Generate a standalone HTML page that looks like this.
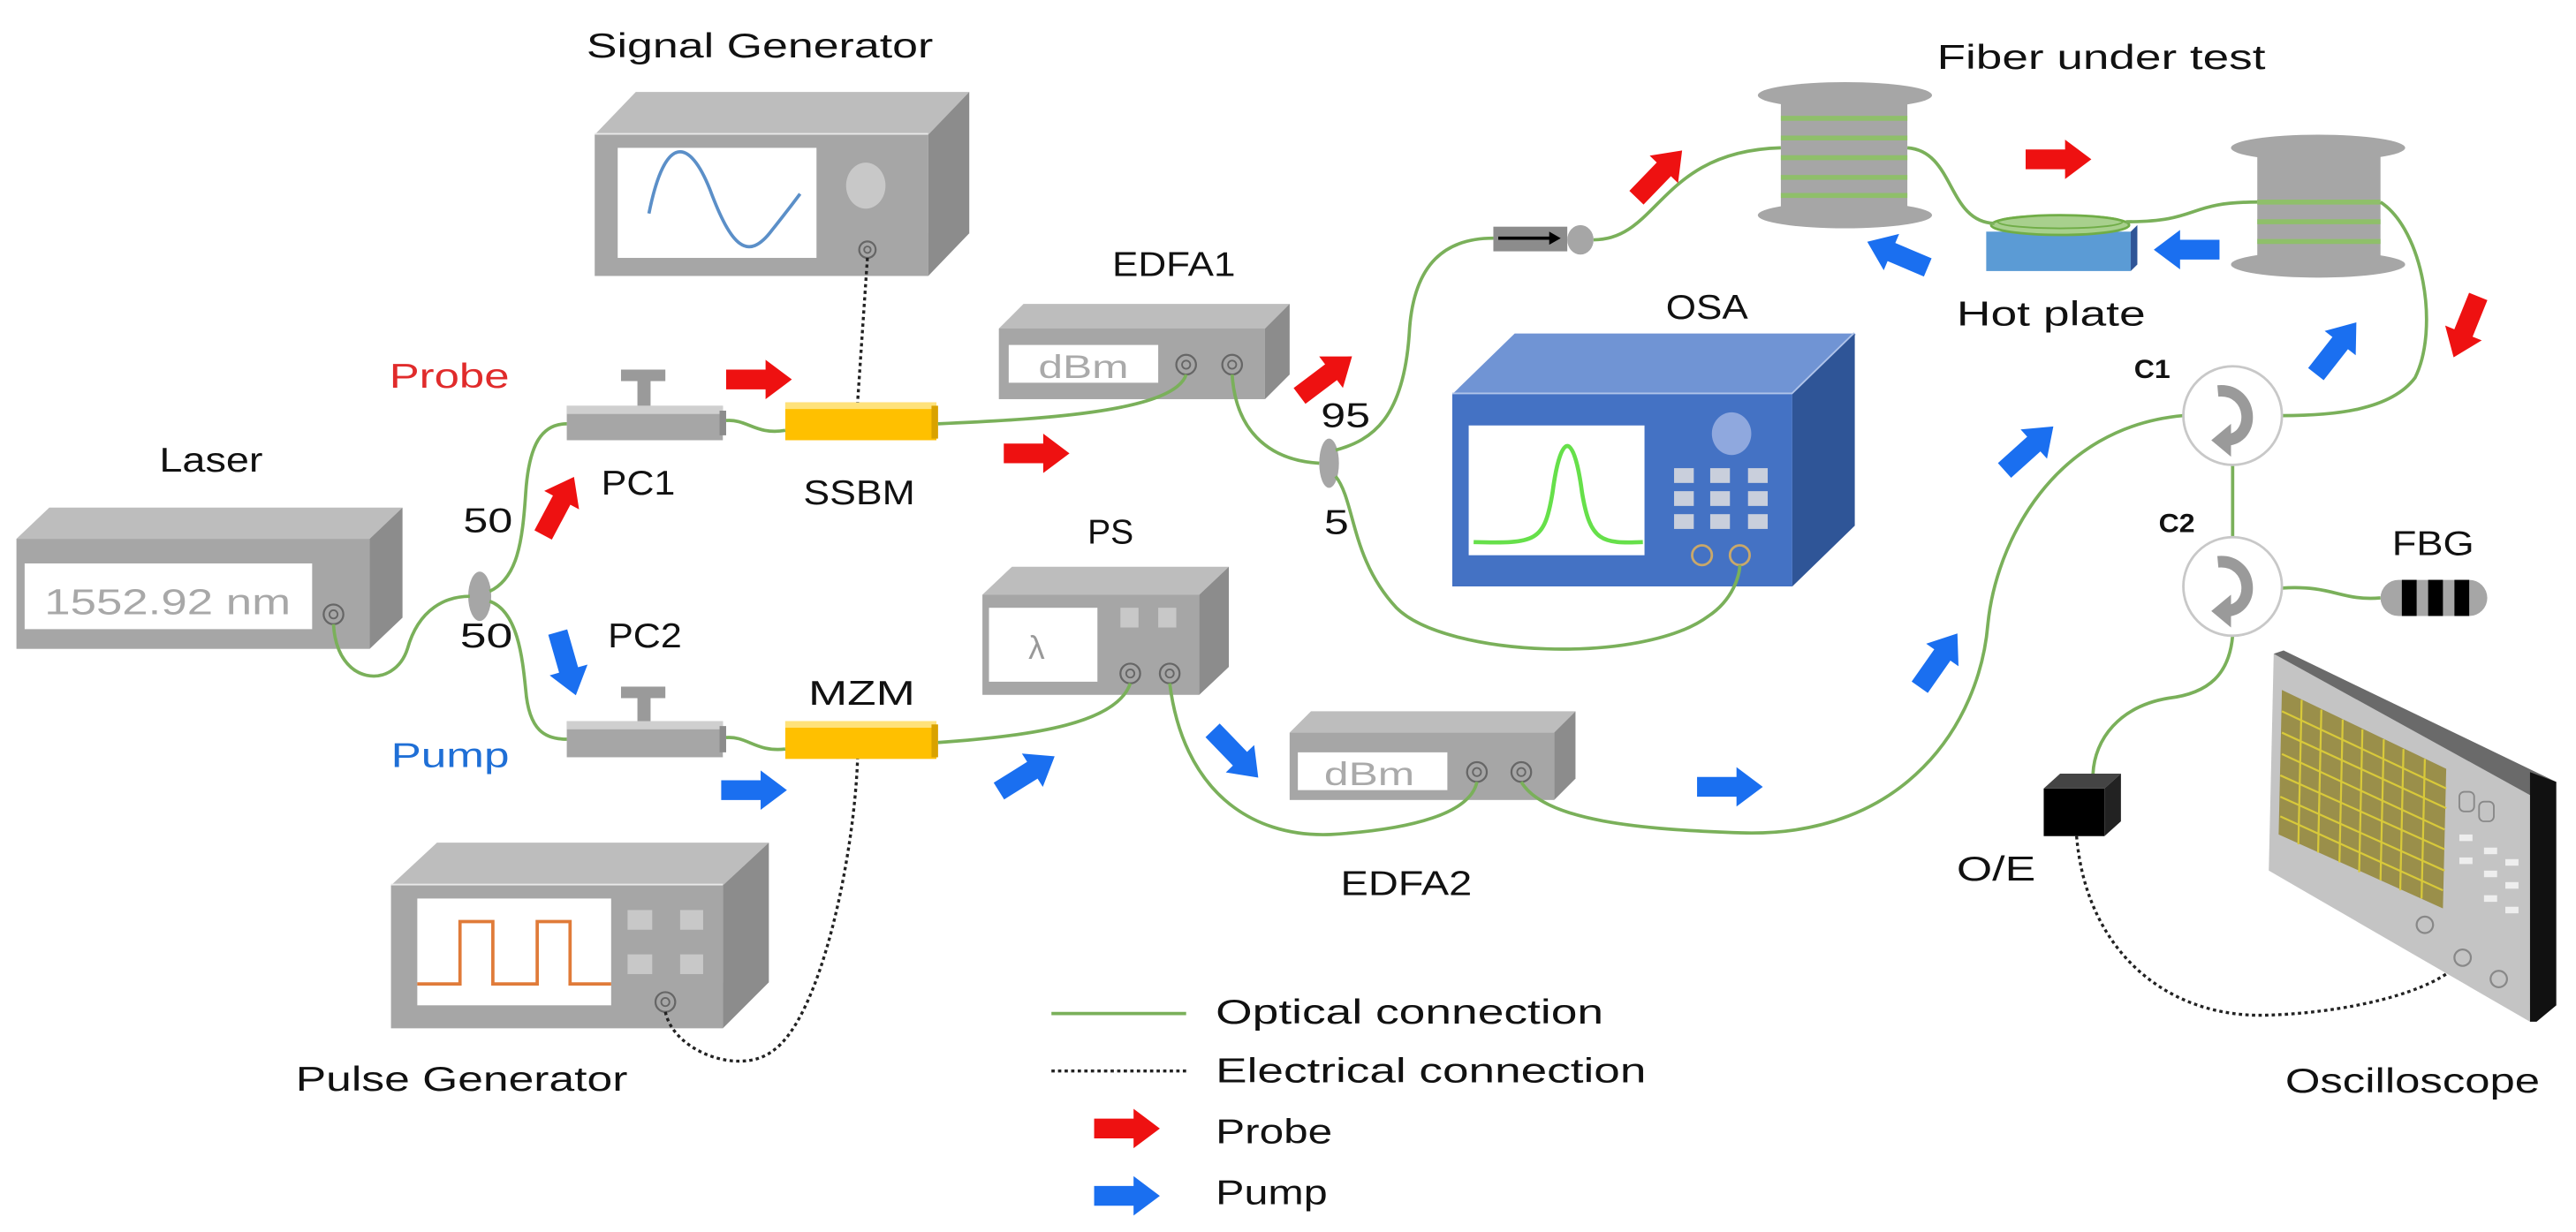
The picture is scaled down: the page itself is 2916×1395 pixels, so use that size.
<!DOCTYPE html>
<html><head><meta charset="utf-8"><style>
html,body{margin:0;padding:0;background:#fff;}
svg{display:block;}
text{font-family:"Liberation Sans",sans-serif;fill:#111;}
</style></head><body>
<svg width="2916" height="1395" viewBox="0 0 1568 750" preserveAspectRatio="none" xmlns="http://www.w3.org/2000/svg">
<defs>
<path id="arr" d="M-20,-6 L4,-6 L4,-12 L20,0 L4,12 L4,6 L-20,6 Z"/>
</defs>
<rect width="1568" height="750" fill="#fff"/>

<!-- ===== Signal Generator ===== -->
<polygon points="387,56 590,56 565,82 362,82" fill="#bdbdbd"/>
<line x1="362" y1="82" x2="565" y2="82" stroke="#e8e8e8" stroke-width="2"/>
<rect x="362" y="82" width="203" height="86" fill="#a6a6a6"/>
<polygon points="565,82 590,56 590,142 565,168" fill="#8c8c8c"/>
<rect x="376" y="90" width="121" height="67" fill="#fff"/>
<path d="M395,130 C405,80 420,85 432,115 C445,150 455,160 470,140 C478,130 484,122 487,118" fill="none" stroke="#5b8fc8" stroke-width="2"/>
<ellipse cx="527" cy="113" rx="12" ry="14" fill="#c8c8c8"/>
<circle cx="528" cy="152" r="5" fill="none" stroke="#666" stroke-width="1.2"/><circle cx="528" cy="152" r="2" fill="none" stroke="#666"/>
<text x="357" y="35" font-size="21" textLength="211" lengthAdjust="spacingAndGlyphs">Signal Generator</text>

<!-- ===== EDFA1 ===== -->
<polygon points="623,185 785,185 770,200 608,200" fill="#bdbdbd"/>
<rect x="608" y="200" width="162" height="43" fill="#a6a6a6"/>
<polygon points="770,200 785,185 785,228 770,243" fill="#8c8c8c"/>
<rect x="614" y="210" width="91" height="23" fill="#fff"/>
<text x="632" y="230" font-size="20" style="fill:#aaa" textLength="55" lengthAdjust="spacingAndGlyphs">dBm</text>
<circle cx="722" cy="222" r="6" fill="none" stroke="#666" stroke-width="1.2"/><circle cx="722" cy="222" r="2.5" fill="none" stroke="#666"/>
<circle cx="750" cy="222" r="6" fill="none" stroke="#666" stroke-width="1.2"/><circle cx="750" cy="222" r="2.5" fill="none" stroke="#666"/>
<text x="677" y="168" font-size="21" textLength="75" lengthAdjust="spacingAndGlyphs">EDFA1</text>

<!-- ===== Laser ===== -->
<polygon points="30,309 245,309 225,328 10,328" fill="#bdbdbd"/>
<rect x="10" y="328" width="215" height="67" fill="#a6a6a6"/>
<polygon points="225,328 245,309 245,376 225,395" fill="#8c8c8c"/>
<rect x="15" y="343" width="175" height="40" fill="#fff"/>
<text x="27" y="374" font-size="22" style="fill:#a8a8a8" textLength="150" lengthAdjust="spacingAndGlyphs">1552.92 nm</text>
<circle cx="203" cy="374" r="6" fill="none" stroke="#666" stroke-width="1.2"/><circle cx="203" cy="374" r="2.5" fill="none" stroke="#666"/>
<text x="97" y="287" font-size="21" textLength="63" lengthAdjust="spacingAndGlyphs">Laser</text>

<!-- ===== PS ===== -->
<polygon points="616,345 748,345 730,362 598,362" fill="#bdbdbd"/>
<rect x="598" y="362" width="132" height="61" fill="#a6a6a6"/>
<polygon points="730,362 748,345 748,406 730,423" fill="#8c8c8c"/>
<rect x="602" y="370" width="66" height="45" fill="#fff"/>
<text x="626" y="401" font-size="20" style="fill:#999">λ</text>
<rect x="682" y="370" width="11" height="12" fill="#c8c8c8"/><rect x="705" y="370" width="11" height="12" fill="#c8c8c8"/>
<circle cx="688" cy="410" r="6" fill="none" stroke="#666" stroke-width="1.2"/><circle cx="688" cy="410" r="2.5" fill="none" stroke="#666"/>
<circle cx="712" cy="410" r="6" fill="none" stroke="#666" stroke-width="1.2"/><circle cx="712" cy="410" r="2.5" fill="none" stroke="#666"/>
<text x="662" y="331" font-size="21" textLength="28" lengthAdjust="spacingAndGlyphs">PS</text>

<!-- ===== EDFA2 ===== -->
<polygon points="798,433 959,433 946,446 785,446" fill="#bdbdbd"/>
<rect x="785" y="446" width="161" height="41" fill="#a6a6a6"/>
<polygon points="946,446 959,433 959,474 946,487" fill="#8c8c8c"/>
<rect x="790" y="458" width="91" height="23" fill="#fff"/>
<text x="806" y="478" font-size="20" style="fill:#aaa" textLength="55" lengthAdjust="spacingAndGlyphs">dBm</text>
<circle cx="899" cy="470" r="6" fill="none" stroke="#666" stroke-width="1.2"/><circle cx="899" cy="470" r="2.5" fill="none" stroke="#666"/>
<circle cx="926" cy="470" r="6" fill="none" stroke="#666" stroke-width="1.2"/><circle cx="926" cy="470" r="2.5" fill="none" stroke="#666"/>
<text x="816" y="545" font-size="21" textLength="80" lengthAdjust="spacingAndGlyphs">EDFA2</text>

<!-- ===== Pulse Generator ===== -->
<polygon points="266,513 468,513 440,539 238,539" fill="#bdbdbd"/>
<line x1="238" y1="539" x2="440" y2="539" stroke="#e8e8e8" stroke-width="2"/>
<rect x="238" y="539" width="202" height="87" fill="#a6a6a6"/>
<polygon points="440,539 468,513 468,598 440,626" fill="#8c8c8c"/>
<rect x="254" y="547" width="118" height="65" fill="#fff"/>
<path d="M254,599 L280,599 L280,561 L300,561 L300,599 L327,599 L327,561 L347,561 L347,599 L372,599" fill="none" stroke="#e07b39" stroke-width="2"/>
<rect x="382" y="554" width="15" height="12" fill="#c8c8c8"/><rect x="414" y="554" width="14" height="12" fill="#c8c8c8"/>
<rect x="382" y="581" width="15" height="12" fill="#c8c8c8"/><rect x="414" y="581" width="14" height="12" fill="#c8c8c8"/>
<circle cx="405" cy="610" r="6" fill="none" stroke="#666" stroke-width="1.2"/><circle cx="405" cy="610" r="2.5" fill="none" stroke="#666"/>
<text x="180" y="664" font-size="21" textLength="202" lengthAdjust="spacingAndGlyphs">Pulse Generator</text>

<!-- ===== OSA ===== -->
<polygon points="922,203 1129,203 1091,240 884,240" fill="#7094d4"/>
<line x1="884" y1="240" x2="1091" y2="240" stroke="#b0c4ea" stroke-width="2"/>
<line x1="1091" y1="240" x2="1129" y2="203" stroke="#b0c4ea" stroke-width="2"/>
<rect x="884" y="240" width="207" height="117" fill="#4472c4"/>
<polygon points="1091,240 1129,203 1129,320 1091,357" fill="#2f5597"/>
<rect x="894" y="259" width="107" height="79" fill="#fff"/>
<path d="M897,330 C935,331 940,330 945,300 C950,262 958,262 963,300 C968,330 975,331 1000,330" fill="none" stroke="#66e04a" stroke-width="2.5"/>
<ellipse cx="1054" cy="264" rx="12" ry="13" fill="#8fa8de"/>
<g fill="#c9cfdc">
<rect x="1019" y="285" width="12" height="9"/><rect x="1041" y="285" width="12" height="9"/><rect x="1064" y="285" width="12" height="9"/>
<rect x="1019" y="299" width="12" height="9"/><rect x="1041" y="299" width="12" height="9"/><rect x="1064" y="299" width="12" height="9"/>
<rect x="1019" y="313" width="12" height="9"/><rect x="1041" y="313" width="12" height="9"/><rect x="1064" y="313" width="12" height="9"/>
</g>
<circle cx="1036" cy="338" r="6" fill="none" stroke="#c9a86a" stroke-width="1.5"/>
<circle cx="1059" cy="338" r="6" fill="none" stroke="#c9a86a" stroke-width="1.5"/>
<text x="1014" y="194" font-size="21" textLength="50" lengthAdjust="spacingAndGlyphs">OSA</text>

<!-- ===== PCs ===== -->
<g>
<rect x="378" y="225" width="27" height="7" fill="#9a9a9a"/><rect x="388" y="231" width="8" height="16" fill="#9a9a9a"/>
<rect x="345" y="247" width="95" height="21" fill="#a6a6a6"/><rect x="345" y="247" width="95" height="5" fill="#cfcfcf"/>
<rect x="438" y="250" width="4" height="15" fill="#8c8c8c"/>
</g>
<g>
<rect x="378" y="418" width="27" height="7" fill="#9a9a9a"/><rect x="388" y="424" width="8" height="16" fill="#9a9a9a"/>
<rect x="345" y="439" width="95" height="22" fill="#a6a6a6"/><rect x="345" y="439" width="95" height="5" fill="#cfcfcf"/>
<rect x="438" y="442" width="4" height="16" fill="#8c8c8c"/>
</g>
<text x="366" y="301" font-size="21" textLength="45" lengthAdjust="spacingAndGlyphs">PC1</text>
<text x="370" y="394" font-size="21" textLength="45" lengthAdjust="spacingAndGlyphs">PC2</text>

<!-- ===== Modulators ===== -->
<rect x="478" y="245" width="92" height="23" fill="#ffc000"/><rect x="478" y="245" width="92" height="4" fill="#ffe27a"/><rect x="567" y="247" width="4" height="20" fill="#d9a200"/>
<rect x="478" y="439" width="92" height="23" fill="#ffc000"/><rect x="478" y="439" width="92" height="4" fill="#ffe27a"/><rect x="567" y="441" width="4" height="20" fill="#d9a200"/>
<text x="489" y="307" font-size="21" textLength="68" lengthAdjust="spacingAndGlyphs">SSBM</text>
<text x="492" y="429" font-size="21" textLength="65" lengthAdjust="spacingAndGlyphs">MZM</text>

<!-- ===== Spools ===== -->
<g>
<ellipse cx="1123" cy="58" rx="53" ry="8" fill="#a6a6a6"/>
<rect x="1084" y="63" width="77" height="63" fill="#a6a6a6"/>
<g stroke="#8fbf6a" stroke-width="3"><line x1="1084" y1="72" x2="1161" y2="72"/><line x1="1084" y1="84" x2="1161" y2="84"/><line x1="1084" y1="96" x2="1161" y2="96"/><line x1="1084" y1="108" x2="1161" y2="108"/><line x1="1084" y1="119" x2="1161" y2="119"/></g>
<ellipse cx="1123" cy="131" rx="53" ry="8" fill="#a6a6a6"/>
</g>
<g>
<ellipse cx="1411" cy="90" rx="53" ry="8" fill="#a6a6a6"/>
<rect x="1374" y="95" width="75" height="62" fill="#a6a6a6"/>
<g stroke="#8fbf6a" stroke-width="3"><line x1="1374" y1="123" x2="1449" y2="123"/><line x1="1374" y1="135" x2="1449" y2="135"/><line x1="1374" y1="147" x2="1449" y2="147"/></g>
<ellipse cx="1411" cy="161" rx="53" ry="8" fill="#a6a6a6"/>
</g>
<text x="1179" y="42" font-size="21" textLength="200" lengthAdjust="spacingAndGlyphs">Fiber under test</text>

<!-- Hot plate -->
<rect x="1209" y="141" width="88" height="24" fill="#5b9bd5"/>
<polygon points="1297,141 1301,137 1301,161 1297,165" fill="#2f5597"/>
<ellipse cx="1254" cy="137" rx="42" ry="6" fill="#a8d08d" stroke="#70ad47" stroke-width="1.5"/>
<ellipse cx="1254" cy="135" rx="38" ry="4" fill="none" stroke="#70ad47" stroke-width="1"/>
<text x="1191" y="198" font-size="21" textLength="115" lengthAdjust="spacingAndGlyphs">Hot plate</text>

<!-- Isolator -->
<rect x="909" y="138" width="45" height="15" fill="#8c8c8c"/>
<ellipse cx="962" cy="146" rx="8" ry="9" fill="#a6a6a6"/>
<line x1="912" y1="145" x2="945" y2="145" stroke="#000" stroke-width="2"/><polygon points="950,145 943,141 943,149" fill="#000"/>

<!-- Splitters -->
<ellipse cx="292" cy="363" rx="7" ry="15" fill="#a6a6a6"/>
<ellipse cx="809" cy="282" rx="6" ry="15" fill="#a6a6a6"/>
<text x="282" y="324" font-size="21" textLength="30" lengthAdjust="spacingAndGlyphs">50</text>
<text x="280" y="394" font-size="21" textLength="32" lengthAdjust="spacingAndGlyphs">50</text>
<text x="804" y="260" font-size="21" textLength="30" lengthAdjust="spacingAndGlyphs">95</text>
<text x="806" y="325" font-size="21" textLength="15" lengthAdjust="spacingAndGlyphs">5</text>

<!-- ===== Green optical lines ===== -->
<g fill="none" stroke="#7ab05a" stroke-width="2">
<path d="M203,380 C205,418 240,420 248,395 C255,370 272,363 286,363"/>
<path d="M298,360 C315,352 318,330 320,300 C322,270 330,258 345,258"/>
<path d="M298,366 C315,372 318,400 320,420 C322,445 332,450 345,450"/>
<path d="M442,256 C455,255 460,265 478,262"/>
<path d="M442,449 C455,448 460,458 478,456"/>
<path d="M571,258 C640,255 715,250 722,228"/>
<path d="M571,452 C630,448 680,440 688,416"/>
<path d="M712,416 C720,480 760,510 810,508 C860,505 895,495 899,476"/>
<path d="M750,228 C752,260 770,280 803,282"/>
<path d="M813,274 C835,268 855,255 858,200 C861,160 880,145 909,145"/>
<path d="M813,290 C825,305 822,340 850,370 C880,400 1000,405 1040,375 C1055,365 1059,350 1059,344"/>
<path d="M970,146 C1010,146 1010,92 1084,90"/>
<path d="M1161,90 C1190,92 1185,135 1214,136"/>
<path d="M1294,135 C1340,135 1330,123 1374,123"/>
<path d="M1449,123 C1475,140 1485,200 1470,230 C1455,250 1420,253 1389,253"/>
<path d="M1329,253 C1250,260 1215,330 1210,380 C1205,440 1160,510 1060,507 C1000,505 940,500 926,476"/>
<path d="M1359,283 L1359,327"/>
<path d="M1389,358 C1420,356 1425,366 1449,364"/>
<path d="M1359,387 C1357,410 1345,422 1320,425 C1290,430 1275,450 1274,471"/>
<path d="M640,617 L722,617"/>
</g>

<!-- ===== Dotted electrical lines ===== -->
<g fill="none" stroke="#222" stroke-width="1.8" stroke-dasharray="2,2">
<path d="M528,157 L522,245"/>
<path d="M405,616 C410,640 450,655 470,640 C500,620 520,520 522,462"/>
<path d="M1264,509 C1270,580 1320,620 1380,618 C1440,616 1490,600 1499,583"/>
<path d="M640,652 L722,652"/>
</g>

<!-- ===== Circulators ===== -->
<g>
<circle cx="1359" cy="253" r="30" fill="#fff" stroke="#c8c8c8" stroke-width="1.5"/>
<path d="M1350,238 C1372,236 1374,268 1354,268" fill="none" stroke="#9a9a9a" stroke-width="7"/>
<polygon points="1346,268 1358,258 1358,278" fill="#9a9a9a"/>
</g>
<g>
<circle cx="1359" cy="357" r="30" fill="#fff" stroke="#c8c8c8" stroke-width="1.5"/>
<path d="M1350,342 C1372,340 1374,372 1354,372" fill="none" stroke="#9a9a9a" stroke-width="7"/>
<polygon points="1346,372 1358,362 1358,382" fill="#9a9a9a"/>
</g>
<text x="1299" y="230" font-size="16" textLength="22" lengthAdjust="spacingAndGlyphs" font-weight="bold">C1</text>
<text x="1314" y="324" font-size="16" textLength="22" lengthAdjust="spacingAndGlyphs" font-weight="bold">C2</text>

<!-- FBG -->
<rect x="1449" y="353" width="65" height="22" rx="11" fill="#a6a6a6"/>
<rect x="1462" y="353" width="9" height="22" fill="#000"/><rect x="1478" y="353" width="9" height="22" fill="#000"/><rect x="1494" y="353" width="9" height="22" fill="#000"/>
<text x="1456" y="338" font-size="21" textLength="50" lengthAdjust="spacingAndGlyphs">FBG</text>

<!-- O/E -->
<polygon points="1254,471 1291,471 1281,480 1244,480" fill="#444"/>
<rect x="1244" y="480" width="37" height="29" fill="#000"/>
<polygon points="1281,480 1291,471 1291,500 1281,509" fill="#222"/>
<text x="1191" y="536" font-size="21" textLength="48" lengthAdjust="spacingAndGlyphs">O/E</text>

<!-- Oscilloscope -->
<polygon points="1384,398 1540,470 1540,622 1381,530" fill="#c4c4c4"/>
<polygon points="1384,398 1390,396 1556,476 1540,484" fill="#6a6a6a"/>
<polygon points="1540,470 1556,476 1556,612 1544,622 1540,622" fill="#111"/>
<polygon points="1389,420 1489,468 1487,553 1387,508" fill="#9a8f4a"/>
<g stroke="#d8c93a" stroke-width="1.2" fill="none">
<path d="M1401,426 L1399,514 M1413,432 L1411,519 M1426,438 L1424,525 M1438,444 L1436,531 M1451,450 L1449,536 M1463,456 L1461,542 M1476,462 L1474,547"/>
<path d="M1389,433 L1489,480 M1389,446 L1489,492 M1389,459 L1488,505 M1388,472 L1488,517 M1388,485 L1488,530 M1388,497 L1487,542"/>
</g>
<g fill="none" stroke="#888" stroke-width="1"><rect x="1497" y="482" width="9" height="12" rx="3"/><rect x="1509" y="488" width="9" height="12" rx="3"/></g>
<g fill="#eee"><rect x="1497" y="508" width="8" height="4"/><rect x="1497" y="522" width="8" height="4"/><rect x="1512" y="516" width="8" height="4"/><rect x="1512" y="530" width="8" height="4"/><rect x="1525" y="523" width="8" height="4"/><rect x="1525" y="537" width="8" height="4"/><rect x="1512" y="545" width="8" height="4"/><rect x="1525" y="552" width="8" height="4"/></g>
<g fill="none" stroke="#888" stroke-width="1.2"><circle cx="1476" cy="563" r="5"/><circle cx="1499" cy="583" r="5"/><circle cx="1521" cy="596" r="5"/></g>
<text x="1391" y="665" font-size="21" textLength="155" lengthAdjust="spacingAndGlyphs">Oscilloscope</text>

<!-- ===== Probe / Pump labels ===== -->
<text x="237" y="236" font-size="21" style="fill:#e02b2b" textLength="73" lengthAdjust="spacingAndGlyphs">Probe</text>
<text x="238" y="467" font-size="21" style="fill:#1f6fd6" textLength="72" lengthAdjust="spacingAndGlyphs">Pump</text>

<!-- ===== Arrows ===== -->
<g fill="#ee1111">
<use href="#arr" transform="translate(462,231)"/>
<use href="#arr" transform="translate(340,308) rotate(-62)"/>
<use href="#arr" transform="translate(631,276)"/>
<use href="#arr" transform="translate(807,229) rotate(-37)"/>
<use href="#arr" transform="translate(1010,106) rotate(-46)"/>
<use href="#arr" transform="translate(1253,97)"/>
<use href="#arr" transform="translate(1501,199) rotate(112)"/>
<use href="#arr" transform="translate(686,687)"/>
</g>
<g fill="#1a6ff0">
<use href="#arr" transform="translate(345,404) rotate(74)"/>
<use href="#arr" transform="translate(459,481)"/>
<use href="#arr" transform="translate(625,471) rotate(-32)"/>
<use href="#arr" transform="translate(752,459) rotate(46)"/>
<use href="#arr" transform="translate(1053,479)"/>
<use href="#arr" transform="translate(1180,402) rotate(-55)"/>
<use href="#arr" transform="translate(1235,273) rotate(-42)"/>
<use href="#arr" transform="translate(1422,212) rotate(-52)"/>
<use href="#arr" transform="translate(1331,152) rotate(180)"/>
<use href="#arr" transform="translate(1155,155) rotate(-157)"/>
<use href="#arr" transform="translate(686,728)"/>
</g>

<!-- ===== Legend text ===== -->
<text x="740" y="623" font-size="21" textLength="236" lengthAdjust="spacingAndGlyphs">Optical connection</text>
<text x="740" y="659" font-size="21" textLength="262" lengthAdjust="spacingAndGlyphs">Electrical connection</text>
<text x="740" y="696" font-size="21" textLength="71" lengthAdjust="spacingAndGlyphs">Probe</text>
<text x="740" y="733" font-size="21" textLength="68" lengthAdjust="spacingAndGlyphs">Pump</text>
</svg>
</body></html>
